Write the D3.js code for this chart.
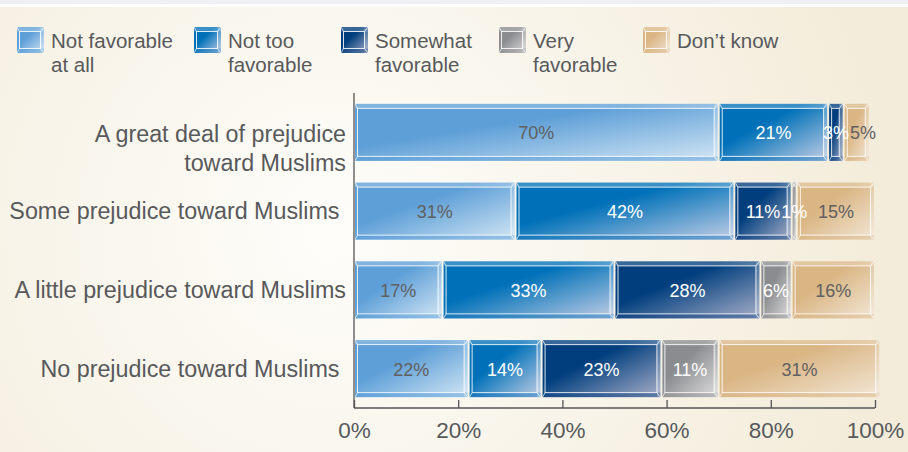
<!DOCTYPE html>
<html>
<head>
<meta charset="utf-8">
<script src="https://cdn.jsdelivr.net/npm/d3@7"></script>
<style>
  html, body { margin: 0; padding: 0; background: #fff; }
  svg { display: block; }
  text { font-family: "Liberation Sans", Arial, Helvetica, sans-serif; }
</style>
</head>
<body>
<svg id="chart" width="908" height="452"></svg>
<script>
// Survey rows (label lines) and the share of each answer, in percent
const categories = [
  ["A great deal of prejudice", "toward Muslims"],
  ["Some prejudice toward Muslims\u00a0"],
  ["A little prejudice toward Muslims"],
  ["No prejudice toward Muslims\u00a0"]
];
const seriesNames = ["Not favorable at all", "Not too favorable", "Somewhat favorable", "Very favorable", "Don\u2019t know"];
const legendLines = [["Not favorable", "at all"], ["Not too", "favorable"], ["Somewhat", "favorable"], ["Very", "favorable"], ["Don\u2019t know"]];
const notFavorableAtAll = [70, 31, 17, 22];
const notTooFavorable   = [21, 42, 33, 14];
const somewhatFavorable = [3, 11, 28, 23];
const veryFavorable     = [0, 1, 6, 11];
const dontKnow          = [5, 15, 16, 31];
const tickValues = [0, 20, 40, 60, 80, 100];

const seriesValues = [notFavorableAtAll, notTooFavorable, somewhatFavorable, veryFavorable, dontKnow];
const palette = [
  { dark: "#5e9fd7", light: "#d3e6f4", edge: "#4d96d6", text: "#606060" },
  { dark: "#0071b8", light: "#c3cee5", edge: "#0a6fb8", text: "#ffffff" },
  { dark: "#003e7d", light: "#a9afc8", edge: "#0a3f80", text: "#ffffff" },
  { dark: "#8b8c8f", light: "#dededf", edge: "#8d8e92", text: "#ffffff" },
  { dark: "#dab685", light: "#f2e7d6", edge: "#d6b07c", text: "#606060" }
];

const rows = categories.map((c, i) => {
  const r = { key: i };
  seriesNames.forEach((s, j) => { r[s] = seriesValues[j][i]; });
  return r;
});

const svg = d3.select("#chart");
const W = 908, H = 452;
const defs = svg.append("defs");

// Page background: thin grey band on top, then warm cream with a pale glow
const bg = defs.append("radialGradient").attr("id", "bg")
  .attr("gradientUnits", "userSpaceOnUse")
  .attr("cx", 330).attr("cy", 230).attr("r", 560);
bg.append("stop").attr("offset", 0).attr("stop-color", "#fefdfa");
bg.append("stop").attr("offset", 0.35).attr("stop-color", "#faf7ef");
bg.append("stop").attr("offset", 1).attr("stop-color", "#f3ecda");
svg.append("rect").attr("width", W).attr("height", H).attr("fill", "url(#bg)");
svg.append("rect").attr("width", W).attr("height", 4).attr("fill", "#eff0f3");
svg.append("rect").attr("y", 4).attr("width", W).attr("height", 3).attr("fill", "#ffffff");

palette.forEach((p, i) => {
  const g = defs.append("linearGradient").attr("id", "grad" + i)
    .attr("x1", 0).attr("y1", 0).attr("x2", 1).attr("y2", 1);
  g.append("stop").attr("offset", 0).attr("stop-color", p.dark);
  g.append("stop").attr("offset", 0.38).attr("stop-color", p.dark);
  g.append("stop").attr("offset", 1).attr("stop-color", p.light);
});

// Scales
const x = d3.scaleLinear().domain([0, 100]).range([354, 875]);
const y = d3.scaleBand().domain(rows.map(r => r.key)).range([93, 408])
  .paddingInner(0.276).paddingOuter(0.138);

const stack = d3.stack().keys(seriesNames);
const stacked = stack(rows);

// Bevelled box: outer fill, lighter top edge, saturated bottom edge,
// white-rimmed front face and corner creases
function drawBox(g, x0, x1, y0, y1, fill, edge) {
  const tl = 2.5, tr = 3.5, tt = 4.5, tb = 4.5;
  g.append("rect").attr("x", x0).attr("y", y0).attr("width", x1 - x0).attr("height", y1 - y0)
    .attr("fill", fill);
  g.append("rect").attr("x", x0).attr("y", y0).attr("width", x1 - x0).attr("height", tt)
    .attr("fill", "#ffffff").attr("opacity", 0.22);
  g.append("rect").attr("x", x0).attr("y", y1 - tb).attr("width", x1 - x0).attr("height", tb)
    .attr("fill", edge).attr("opacity", 0.45);
  g.append("rect").attr("x", x1 - tr).attr("y", y0).attr("width", tr).attr("height", y1 - y0)
    .attr("fill", "#ffffff").attr("opacity", 0.18);
  g.append("rect").attr("x", x0 + tl).attr("y", y0 + tt)
    .attr("width", Math.max(0, x1 - x0 - tl - tr)).attr("height", y1 - y0 - tt - tb)
    .attr("fill", "none").attr("stroke", "#ffffff").attr("stroke-opacity", 0.85).attr("stroke-width", 1);
  const creases = [
    [x0, y0, x0 + tl, y0 + tt], [x1, y0, x1 - tr, y0 + tt],
    [x1, y1, x1 - tr, y1 - tb], [x0, y1, x0 + tl, y1 - tb]
  ];
  g.selectAll(null).data(creases).join("line")
    .attr("x1", d => d[0]).attr("y1", d => d[1]).attr("x2", d => d[2]).attr("y2", d => d[3])
    .attr("stroke", "#ffffff").attr("stroke-opacity", 0.7).attr("stroke-width", 1);
}

// Bars
const barsG = svg.append("g");
stacked.forEach((layer, si) => {
  layer.forEach((d, ri) => {
    const v = d[1] - d[0];
    if (v <= 0) return;
    const x0 = x(d[0]) + 1, x1 = x(d[1]) - 1;
    const y0 = y(ri), y1 = y(ri) + y.bandwidth();
    drawBox(barsG.append("g"), x0, x1, y0, y1, "url(#grad" + si + ")", palette[si].edge);
  });
});

// Value labels, centred on their segment; narrow neighbours are nudged apart
const labelsG = svg.append("g");
rows.forEach((r, ri) => {
  const items = [];
  stacked.forEach((layer, si) => {
    const d = layer[ri];
    const v = d[1] - d[0];
    if (v <= 0) return;
    const t = labelsG.append("text")
      .attr("x", (x(d[0]) + x(d[1])) / 2)
      .attr("y", y(ri) + y.bandwidth() / 2 + 7)
      .attr("text-anchor", "middle")
      .attr("font-size", 18)
      .attr("fill", palette[si].text)
      .text(v + "%");
    items.push({ t, cx: (x(d[0]) + x(d[1])) / 2, w: t.node().getComputedTextLength() });
  });
  let prevEnd = -Infinity;
  items.forEach(it => {
    let left = it.cx - it.w / 2;
    if (left < prevEnd + 1) left = prevEnd + 1;
    it.t.attr("x", left + it.w / 2);
    prevEnd = left + it.w;
  });
});

// Category labels
const catG = svg.append("g");
categories.forEach((lines, i) => {
  const yc = y(i) + y.bandwidth() / 2;
  const t = catG.append("text")
    .attr("text-anchor", "end")
    .attr("font-size", 23.3)
    .attr("fill", "#58595b");
  if (lines.length === 1) {
    t.append("tspan").attr("x", 346).attr("y", yc + 8).text(lines[0]);
  } else {
    lines.forEach((ln, k) => {
      t.append("tspan").attr("x", 346).attr("y", yc + 10 + k * 28.5).text(ln);
    });
  }
});

// Axes
const axisY = 408;
svg.append("line").attr("x1", 354).attr("x2", 354).attr("y1", 93).attr("y2", axisY)
  .attr("stroke", "#555").attr("stroke-width", 1.3);
const xAxis = d3.axisBottom(x).tickValues(tickValues).tickSize(-8).tickPadding(14)
  .tickFormat(d => d + "%");
const axG = svg.append("g").attr("transform", `translate(0,${axisY})`).call(xAxis);
axG.select(".domain").attr("stroke", "#555").attr("stroke-width", 1.3)
  .attr("d", `M${x(0)},0H${x(100)}`);
axG.selectAll(".tick line").attr("stroke", "#555").attr("stroke-width", 1.3);
axG.selectAll(".tick text")
  .attr("font-family", "'Liberation Sans', Arial, sans-serif")
  .attr("font-size", 22.5).attr("fill", "#58595b").attr("dy", "0.71em");

// Legend
const legendX = [17, 194, 341, 499, 643];
const legG = svg.append("g");
legendLines.forEach((lines, i) => {
  const g = legG.append("g");
  drawBox(g, legendX[i], legendX[i] + 27, 27, 53, "url(#grad" + i + ")", palette[i].edge);
  const t = g.append("text").attr("font-size", 20.5).attr("fill", "#58595b");
  lines.forEach((ln, k) => {
    t.append("tspan").attr("x", legendX[i] + 34).attr("y", 48 + k * 24).text(ln);
  });
});
</script>
</body>
</html>
